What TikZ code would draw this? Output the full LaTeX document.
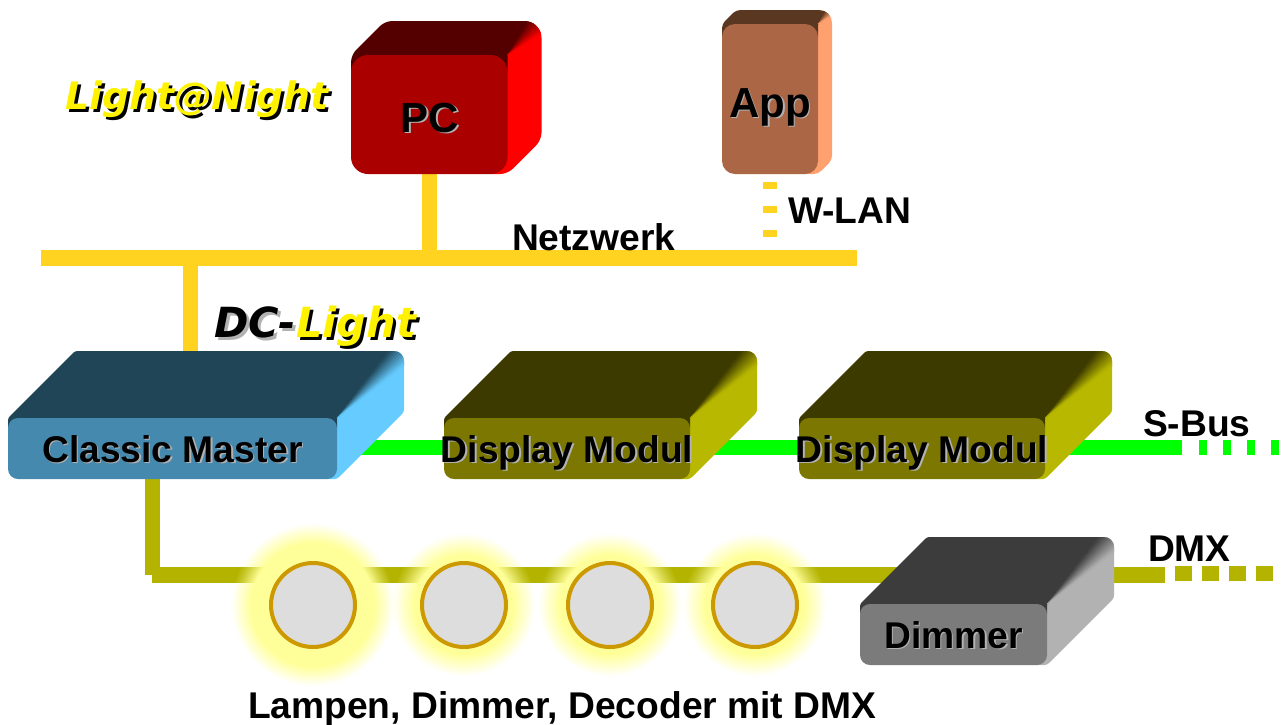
\documentclass[tikz,border=0pt]{standalone}
\usepackage{fontspec}
\setmainfont{Liberation Sans}
\newfontfamily\logofont{DejaVu Sans}
\definecolor{netY}{HTML}{FFD320}
\definecolor{olive}{HTML}{B4B400}
\definecolor{glowY}{HTML}{FFFF99}
\definecolor{lampF}{HTML}{DDDDDD}
\definecolor{lampL}{HTML}{CC9900}
\definecolor{pcF}{HTML}{AA0000}\definecolor{pcT}{HTML}{550000}\definecolor{pcS}{HTML}{FF0000}
\definecolor{appF}{HTML}{AB6745}\definecolor{appT}{HTML}{5A3720}\definecolor{appS}{HTML}{FFA06F}
\definecolor{msF}{HTML}{4689AE}\definecolor{msT}{HTML}{204557}\definecolor{msS}{HTML}{66CCFF}
\definecolor{dmF}{HTML}{7B7700}\definecolor{dmT}{HTML}{3D3A00}\definecolor{dmS}{HTML}{B8B800}
\definecolor{dimF}{HTML}{7B7B7B}\definecolor{dimT}{HTML}{3C3C3C}\definecolor{dimS}{HTML}{B2B2B2}
\pgfdeclarelayer{bg}\pgfdeclarelayer{glowlayer}
\pgfsetlayers{bg,glowlayer,main}
\tikzset{
  netline/.style={draw=netY,line width=15pt},
  busline/.style={draw=green,line width=15pt},
  dmxline/.style={draw=olive,line width=15.5pt},
  frontface/.style={rectangle,inner sep=0pt,outer sep=0pt},
  lamp/.style={circle,draw=lampL,line width=4pt,fill=lampF,minimum size=84pt,inner sep=0pt},
  lbl/.style={inner sep=0pt,outer sep=0pt,anchor=base,font=\fontsize{37.2}{40}\selectfont\bfseries},
  biglbl/.style={lbl,font=\fontsize{42}{44}\selectfont\bfseries},
  plainlbl/.style={lbl,anchor=base west},
  logoa/.style={inner sep=0pt,outer sep=0pt,anchor=base west,font=\fontsize{37.8}{40}\logofont\bfseries\itshape},
  logob/.style={logoa,font=\fontsize{41.5}{44}\logofont\bfseries\itshape},
}
% text with an offset copy under it: shadow colour, dx, dy, text colour, text
\newcommand\shadowed[5]{\rlap{\hspace*{#2pt}\raisebox{-#3pt}{\textcolor{#1}{#5}}}\textcolor{#4}{#5}}
\newcommand\labelshadow[1]{\shadowed{black!30}{1.5}{1.5}{black}{#1}}
% name, x0, y0, x1, y1, depth, radius, gradient width, colour prefix
\newcommand\devbox[9]{%
  \begin{scope}
    \pgfmathsetmacro\bxr{#4+#6}
    \pgfmathsetmacro\byt{#3-#6}
    \pgfmathsetmacro\rsm{#7*#7/40}
    \clip[rounded corners=\rsm pt] (#2,#5) -- (#2,#3) -- (#2+#6,\byt) [rounded corners=#7pt] -- (\bxr,\byt) [rounded corners=\rsm pt] -- (\bxr,#5-#6) -- (#4,#5) -- cycle;
    \fill[#9S] (#4-#7,\byt-5) rectangle (\bxr+5,#5+5);
    \fill[#9T] (#2-3,#3+#7) -- (#2-3,#3) -- (#2+#6,\byt) -- (#2+#6,\byt-5) -- (\bxr-#8,\byt-5) -- (\bxr-#8,\byt) -- (#4,#3) -- (#4,#3+#7) -- cycle;
    \foreach \ii in {0,...,9}{
      \pgfmathsetmacro\ta{\ii/10}
      \pgfmathsetmacro\tb{(\ii+1)/10}
      \pgfmathtruncatemacro\pc{100-(\ii+0.5)*10}
      \pgfmathsetmacro\ax{#4+1.6*(\bxr-#8+\ta*#8-#4)}
      \pgfmathsetmacro\ay{#3+1.6*(\byt+\ta*#8-#3)}
      \pgfmathsetmacro\bx{#4+1.6*(\bxr-#8+\tb*#8-#4)}
      \pgfmathsetmacro\by{#3+1.6*(\byt+\tb*#8-#3)}
      \filldraw[fill=#9T!\pc!#9S,draw=#9T!\pc!#9S,line width=0.3pt] (#4,#3) -- (\ax,\ay) -- (\bx,\by) -- cycle;
    }
  \end{scope}
  \pgfmathsetmacro\bw{#4-#2}
  \pgfmathsetmacro\bh{#5-#3}
  \node[frontface,fill=#9F,rounded corners=#7pt,minimum width=\bw pt,minimum height=\bh pt] (#1) at ({(#2+#4)/2},{(#3+#5)/2}) {};
}
\begin{document}
\begin{tikzpicture}[x=1pt,y=-1pt]
\useasboundingbox (0,0) rectangle (1282,724);

% free ends of connectors
\coordinate (netL) at (41,258);
\coordinate (netR) at (857,258);
\coordinate (masterDrop) at (190.5,258);
\coordinate (masterTop) at (190.5,360);
\coordinate (wlanTop) at (770,182);
\coordinate (wlanEnd) at (770,237);
\coordinate (sbusEnd) at (1182,447);
\coordinate (sbusDashA) at (1199,447);
\coordinate (sbusDashB) at (1282,447);
\coordinate (dmxCorner) at (152.5,575);
\coordinate (dmxStart) at (152,575);
\coordinate (dmxEnd) at (1165,575);
\coordinate (dmxDashA) at (1175,573.5);
\coordinate (dmxDashB) at (1273,573.5);

% devices
\devbox{pc}{351}{55}{507.5}{174}{34}{17}{13}{pc}
\devbox{app}{722}{24}{818}{174}{14}{13}{6}{app}
\devbox{master}{8}{418}{337}{479}{67}{10}{15}{ms}
\devbox{dispA}{444}{418}{690}{479}{67}{10}{15}{dm}
\devbox{dispB}{799}{418}{1045}{479}{67}{10}{15}{dm}
\devbox{dimmer}{860}{604}{1047}{665}{67}{10}{15}{dim}

% lamps with their glow
\begin{pgfonlayer}{glowlayer}
  \foreach \cx/\rout/\rin in {313/81/62,464/71/50,610/71/50,755/71/50}{
    \foreach \k in {0,...,19}{
      \pgfmathsetmacro\aa{1/(20-\k)}
      \pgfmathsetmacro\rr{\rout-\k*(\rout-\rin)/19}
      \fill[glowY,opacity=\aa] (\cx,605) circle[radius=\rr];
    }
  }
\end{pgfonlayer}
\node[lamp] (lampA) at (313,605) {};
\node[lamp] (lampB) at (464,605) {};
\node[lamp] (lampC) at (610,605) {};
\node[lamp] (lampD) at (755,605) {};

% connectors
\begin{pgfonlayer}{bg}
  \draw[netline,line width=15.5pt] (netL) -- (netR);
  \draw[netline] (pc.south) -- (pc.south |- netL);
  \draw[netline] (masterDrop) -- (masterTop);
  \draw[netline,line width=14pt,dash pattern=on 7pt off 17pt] (wlanTop) -- (wlanEnd);
  \draw[busline] (master.east |- sbusEnd) -- (dispA.west |- sbusEnd);
  \draw[busline] (dispA.east |- sbusEnd) -- (dispB.west |- sbusEnd);
  \draw[busline] (dispB.east |- sbusEnd) -- (sbusEnd);
  \draw[busline,dash pattern=on 8pt off 16pt] (sbusDashA) -- (sbusDashB);
  \draw[dmxline,line width=15pt] (master.south -| dmxCorner) -- (dmxCorner);
  \draw[dmxline] (dmxStart) -- (dimmer.center |- dmxStart);
  \draw[dmxline] (dimmer.east |- dmxEnd) -- (dmxEnd);
  \draw[dmxline,dash pattern=on 17pt off 10pt] (dmxDashA) -- (dmxDashB);
\end{pgfonlayer}

% labels
\node[logoa] (lightnight) at (65,109) {\shadowed{black}{3}{3}{yellow}{Light@Night}};
\node[logob] (dclight) at (214,337) {\shadowed{black!30}{3}{3}{black}{DC-}\shadowed{black}{3}{3}{yellow}{Light}};
\node[biglbl] (pclbl) at (430,132) {\labelshadow{PC}};
\node[biglbl] (applbl) at (770,117) {\labelshadow{App}};
\node[lbl] (masterlbl) at (172.5,462) {\labelshadow{Classic Master}};
\node[lbl] (dispAlbl) at (567,462) {\labelshadow{Display Modul}};
\node[lbl] (dispBlbl) at (922,462) {\labelshadow{Display Modul}};
\node[lbl] (dimmerlbl) at (953.5,648) {\labelshadow{Dimmer}};
\node[plainlbl] (netzlbl) at (512,250) {Netzwerk};
\node[plainlbl] (wlanlbl) at (788,223) {W-LAN};
\node[plainlbl] (sbuslbl) at (1143,436) {S-Bus};
\node[plainlbl] (dmxlbl) at (1148,561) {DMX};
\node[plainlbl] (lamplbl) at (248,718) {Lampen, Dimmer, Decoder mit DMX};
\end{tikzpicture}
\end{document}
